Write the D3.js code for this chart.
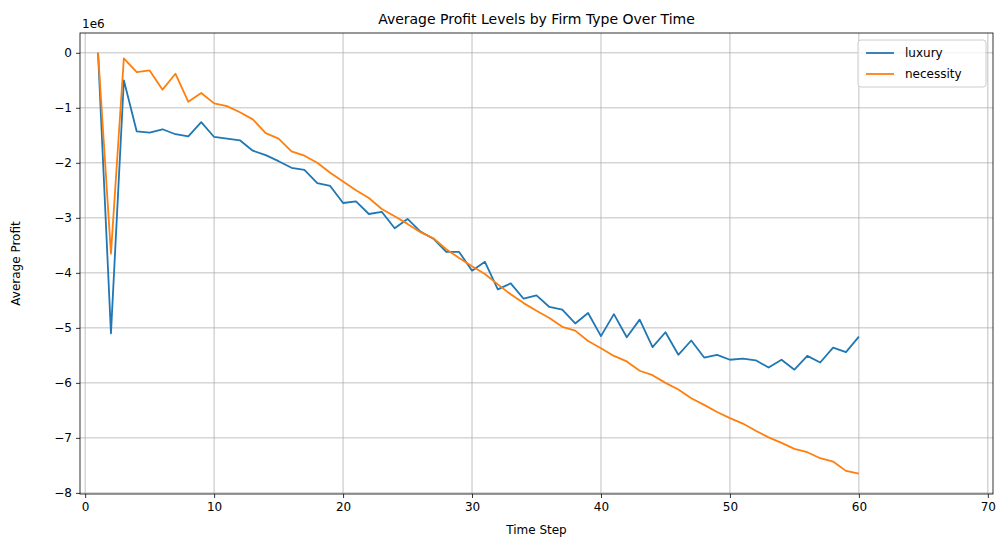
<!DOCTYPE html>
<html><head><meta charset="utf-8">
<script src="https://cdn.jsdelivr.net/npm/d3@7"></script>
<style>body{margin:0;background:#fff;font-family:"DejaVu Sans",sans-serif;}</style>
</head><body><svg id="chart" width="1008" height="547"></svg>
<script>
var luxury = [0,-5.1,-0.5,-1.43,-1.45,-1.39,-1.48,-1.52,-1.26,-1.53,-1.56,-1.59,-1.78,-1.86,-1.97,-2.09,-2.13,-2.37,-2.42,-2.73,
  -2.70,-2.93,-2.89,-3.19,-3.02,-3.25,-3.38,-3.62,-3.62,-3.96,-3.80,-4.30,-4.19,-4.47,-4.41,-4.62,-4.67,-4.92,-4.73,-5.15,
  -4.75,-5.17,-4.85,-5.35,-5.08,-5.49,-5.23,-5.54,-5.49,-5.58,-5.56,-5.59,-5.72,-5.58,-5.76,-5.51,-5.63,-5.36,-5.44,-5.16];
var necessity = [0,-3.65,-0.1,-0.35,-0.32,-0.67,-0.38,-0.89,-0.73,-0.92,-0.97,-1.08,-1.21,-1.46,-1.56,-1.79,-1.87,-2.0,-2.18,-2.34,
  -2.50,-2.64,-2.84,-2.97,-3.11,-3.26,-3.37,-3.57,-3.73,-3.88,-4.02,-4.21,-4.39,-4.55,-4.69,-4.82,-4.98,-5.05,-5.24,-5.37,
  -5.51,-5.61,-5.78,-5.86,-6.00,-6.12,-6.28,-6.40,-6.53,-6.64,-6.74,-6.87,-6.99,-7.09,-7.20,-7.26,-7.37,-7.43,-7.60,-7.65];
var xTicks = [0,10,20,30,40,50,60,70];
var yTicks = [0,-1,-2,-3,-4,-5,-6,-7,-8];
var seriesNames = ["luxury","necessity"];
var colors = ["#1f77b4","#ff7f0e"];

var svg = d3.select("#chart");
var m = {left:80, right:993, top:33, bottom:494};
var x = d3.scaleLinear().domain([-0.4,70.4]).range([m.left,m.right]);
var y = d3.scaleLinear().domain([-8.02,0.36]).range([m.bottom,m.top]);

// grid
svg.append("g").selectAll("line").data(xTicks).join("line")
  .attr("x1",d=>x(d)).attr("x2",d=>x(d)).attr("y1",m.top).attr("y2",m.bottom)
  .attr("stroke","#b0b0b0").attr("stroke-width",0.8);
svg.append("g").selectAll("line").data(yTicks).join("line")
  .attr("y1",d=>y(d)).attr("y2",d=>y(d)).attr("x1",m.left).attr("x2",m.right)
  .attr("stroke","#b0b0b0").attr("stroke-width",0.8);

var xa = svg.append("g").attr("transform","translate(0,"+m.bottom+")")
  .call(d3.axisBottom(x).tickValues(xTicks).tickSize(4).tickPadding(4));
var ya = svg.append("g").attr("transform","translate("+m.left+",0)")
  .call(d3.axisLeft(y).tickValues(yTicks).tickSize(4).tickPadding(4).tickFormat(d=>d===0?"0":"\u2212"+(-d)));
[xa,ya].forEach(a=>{a.select(".domain").remove();a.selectAll("text").attr("font-size",12).attr("font-family","DejaVu Sans").attr("fill","#000");a.selectAll("line").attr("stroke","#000").attr("stroke-width",0.8);});

var line = d3.line().x((d,i)=>x(i+1)).y(d=>y(d));
[luxury,necessity].forEach((s,k)=>{
  svg.append("path").datum(s).attr("d",line).attr("fill","none").attr("stroke",colors[k]).attr("stroke-width",1.8).attr("stroke-linejoin","round");
});

svg.append("rect").attr("x",m.left).attr("y",m.top).attr("width",m.right-m.left).attr("height",m.bottom-m.top)
  .attr("fill","none").attr("stroke","#000").attr("stroke-width",0.8);

svg.append("text").attr("x",(m.left+m.right)/2).attr("y",24).attr("text-anchor","middle").attr("font-size",14).text("Average Profit Levels by Firm Type Over Time");
svg.append("text").attr("x",(m.left+m.right)/2).attr("y",534).attr("text-anchor","middle").attr("font-size",12).text("Time Step");
svg.append("text").attr("transform","translate(20,"+((m.top+m.bottom)/2)+") rotate(-90)").attr("text-anchor","middle").attr("font-size",12).text("Average Profit");
svg.append("text").attr("x",m.left+2).attr("y",28).attr("font-size",12).text("1e6");

// legend
var lg = svg.append("g").attr("transform","translate(858,40)");
lg.append("rect").attr("width",128).attr("height",47).attr("rx",3).attr("fill","#fff").attr("fill-opacity",0.8).attr("stroke","#ccc");
seriesNames.forEach((n,k)=>{
  lg.append("line").attr("x1",8).attr("x2",36).attr("y1",13+k*21).attr("y2",13+k*21).attr("stroke",colors[k]).attr("stroke-width",1.8);
  lg.append("text").attr("x",47).attr("y",17+k*21).attr("font-size",12).text(n);
});
</script></body></html>
